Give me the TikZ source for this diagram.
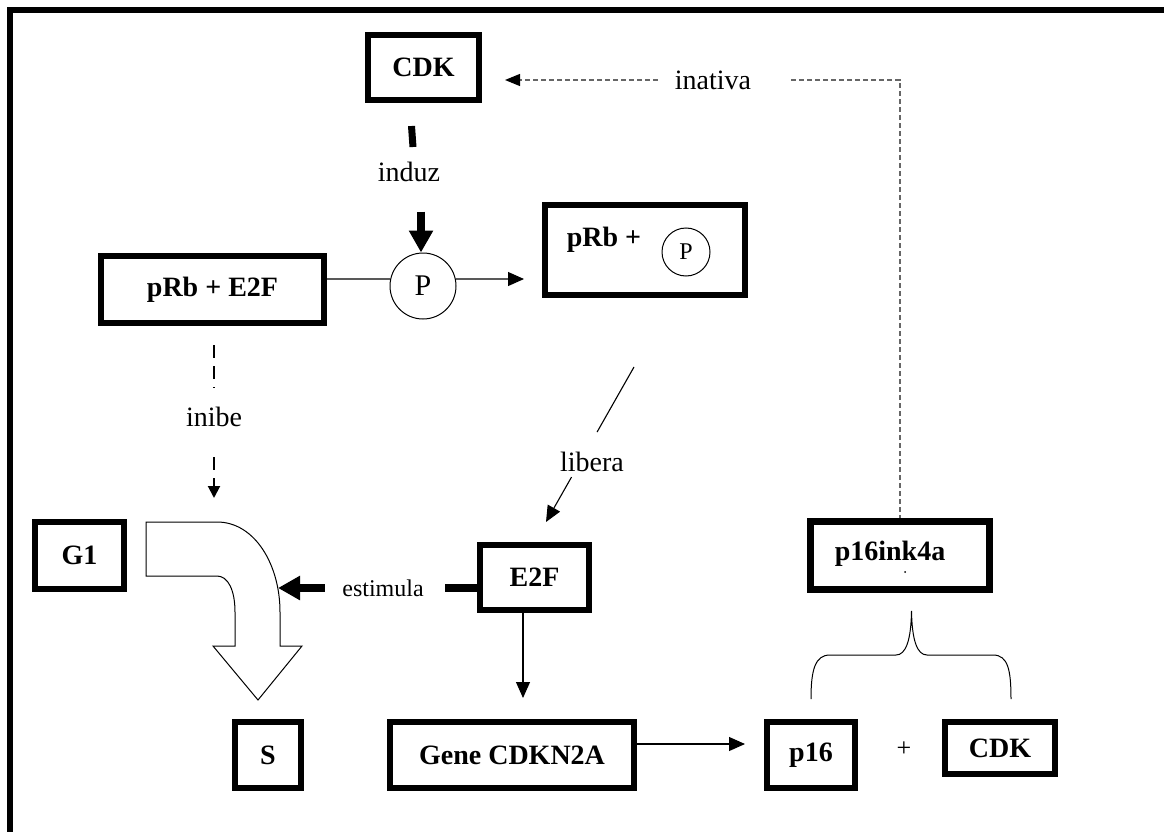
\documentclass[tikz,border=0pt]{standalone}
\usepackage{fontspec}
\setmainfont{Liberation Serif}
\usetikzlibrary{arrows.meta,calc}

\begin{document}
\begin{tikzpicture}[x=1pt,y=-1pt,
  box/.style={draw, line width=6pt, inner sep=0pt, font=\fontsize{28}{32}\selectfont\bfseries},
  boldtxt/.style={inner sep=0pt, font=\fontsize{28}{32}\selectfont\bfseries},
  lbl/.style={inner sep=0pt, font=\fontsize{28}{32}\selectfont},
  pcircle/.style={circle, draw, line width=1pt, inner sep=0pt},
  link/.style={line width=1.1pt},
  tip/.style={-{Triangle[length=16pt,width=14pt]}},
  fat/.style={line width=8pt, -{Triangle[length=22pt,width=23pt]}},
  greydash/.style={draw=black!60, line width=1.2pt, dash pattern=on 5pt off 3pt},
  inibedash/.style={line width=2pt, dash pattern=on 13pt off 8pt}
]
\useasboundingbox (0,0) rectangle (1164,832);

% outer frame
\draw[line width=6pt] (10,832) -- (10,10) -- (1164,10);

% boxes and labels
\node[box, minimum width=111pt, minimum height=65pt] (cdk) at (423.5,67.5) {CDK};
\node[lbl] (inativa) at (713,80) {inativa};
\node[lbl] (induz) at (409,172) {induz};
\node[pcircle, minimum size=66pt, font=\fontsize{30}{34}\selectfont] (pc) at (423,286) {P};
\node[box, minimum width=223pt, minimum height=67pt] (pe) at (212.5,289.5) {pRb + E2F};
\node[box, minimum width=200pt, minimum height=90pt] (pp) at (645,250) {};
\node[boldtxt] (pptxt) at (604,240) {pRb +};
\node[pcircle, minimum size=48pt, font=\fontsize{24}{28}\selectfont] (ppc) at (686,252) {P};
\node[lbl] (inibe) at (214,417) {inibe};
\node[lbl] (libera) at (592,462) {libera};
\node[box, minimum width=89pt, minimum height=67pt] (g1) at (79.5,555.5) {G1};
\node[lbl, font=\fontsize{24}{28}\selectfont] (estimula) at (383,588) {estimula};
\node[box, minimum width=109pt, minimum height=65pt] (e2f) at (534.5,577.5) {E2F};
\node[box, minimum width=66pt, minimum height=66pt] (s) at (268,755) {S};
\node[box, minimum width=244pt, minimum height=66pt] (gene) at (512,755) {Gene CDKN2A};
\node[box, minimum width=88pt, minimum height=66pt] (p16) at (811,755) {p16};
\node[lbl, font=\fontsize{26}{30}\selectfont] (plus) at (904,749) {+};
\node[box, minimum width=110pt, minimum height=52pt] (cdkb) at (1000,748) {CDK};
\node[box, line width=7pt, minimum width=179pt, minimum height=68pt] (ink) at (900,555.5) {};
\node[boldtxt] (inktxt) at (890,554) {p16ink4a};
\fill (905,572) circle (1pt);

% bent arrow G1 -> S
\coordinate (bendin) at (214,498);
\coordinate (bendout) at (278,588);
\draw[line width=1pt, fill=white] (146,522) -- (217,522)
  .. controls (255,522) and (280,565) .. (280,612) -- (280,646) -- (302,646)
  -- (258,700) -- (213,646) -- (235,646) -- (235,612)
  .. controls (235,590) and (228,576) .. (217,576) -- (146,576) -- cycle;

% CDK is inactivated by p16ink4a
\draw[greydash, -{Triangle[length=15pt,width=12pt,black]}, shorten <=17pt, shorten >=23pt]
  (inativa.west) -- (cdk.east |- inativa.west);
\draw[greydash, shorten <=40pt] (inativa.east) -- (ink.north |- inativa.east) -- (ink.north);

% CDK induces phosphorylation
\draw[line width=7pt] ($(cdk.south)+(-12,23)$) -- ($(cdk.south)+(-10.5,44)$);
\draw[fat] ($(pc.north)+(-2,-41)$) -- ($(pc.north)+(-2,0)$);

% pRb + E2F -> P -> pRb + P
\draw[link] ([yshift=10.5pt]pe.east) -- (pc.168);
\draw[link, tip, shorten >=18pt] (pc.12) -- ($(pp.west)+(0,29)$);

% inibe
\draw[inibedash, shorten <=19pt, shorten >=19.4pt] ([xshift=1.5pt]pe.south) -- (inibe.north);
\draw[inibedash, -{Triangle[length=12pt,width=12pt]}, shorten <=30pt] (inibe.south) -- (bendin);

% libera
\coordinate (la) at (634,367);
\coordinate (lb) at (546,522);
\draw[link] (la) -- ($(la)!0.42!(lb)$);
\draw[link, tip] ($(la)!0.71!(lb)$) -- (lb);

% estimula
\draw[fat, shorten <=17.3pt] (estimula.west) -- (bendout);
\draw[line width=8pt, shorten <=21.5pt] (estimula.east) -- (e2f.west |- estimula.east);

% E2F -> Gene CDKN2A -> p16
\draw[link, tip, shorten >=21pt] ([xshift=-11.5pt]e2f.south) -- ([xshift=11pt]gene.north);
\draw[link, tip, shorten >=19pt] ([yshift=11pt]gene.east) -- ([yshift=11pt]p16.west);

% brace joining p16 + CDK into p16ink4a
\draw[line width=1pt] (811,699) .. controls (811,670) and (815,655) .. (830,655) -- (896,655)
  .. controls (906,655) and (911,640) .. (911.5,611)
  .. controls (912,640) and (917,655) .. (927,655) -- (993,655)
  .. controls (1008,655) and (1011,670) .. (1011,699);
\end{tikzpicture}
\end{document}
